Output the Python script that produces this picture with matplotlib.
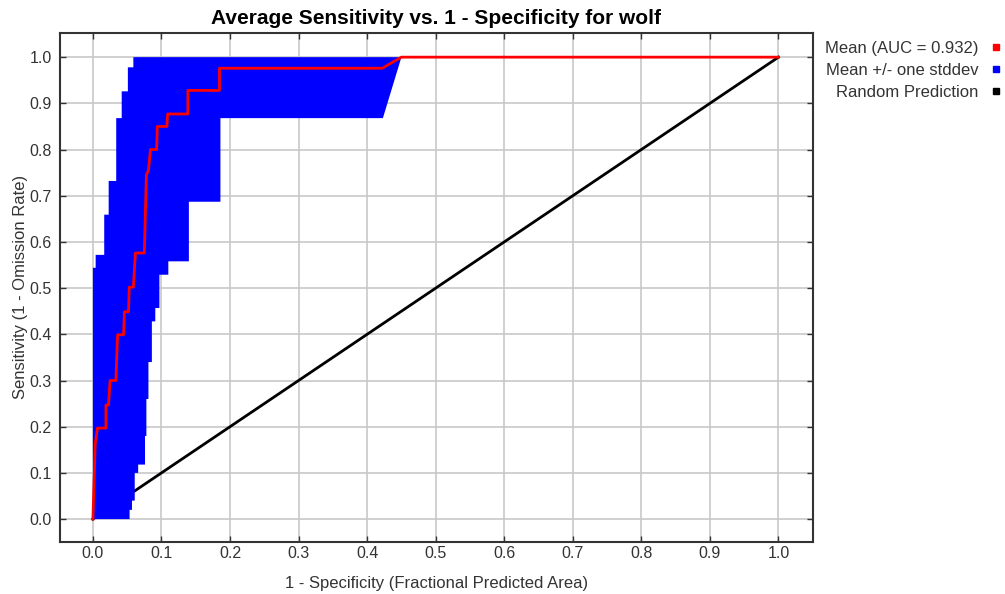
import numpy as np
import matplotlib.pyplot as plt

plt.rcParams['font.family'] = ['Liberation Sans', 'DejaVu Sans']

# Mean ROC curve (1 - specificity, sensitivity)
mean_fpr = [0.0, 0.0034, 0.0067, 0.019, 0.019, 0.0228, 0.025, 0.0335, 0.036, 0.0447,
            0.046, 0.052, 0.053, 0.059, 0.062, 0.075, 0.078, 0.081, 0.084, 0.093,
            0.094, 0.108, 0.109, 0.1385, 0.1385, 0.1846, 0.1846, 0.422, 0.45, 1.0]
mean_tpr = [0.0, 0.164, 0.197, 0.197, 0.247, 0.247, 0.30, 0.30, 0.399, 0.399,
            0.449, 0.449, 0.502, 0.502, 0.576, 0.576, 0.745, 0.755, 0.80, 0.80,
            0.85, 0.85, 0.877, 0.877, 0.928, 0.928, 0.976, 0.976, 1.0, 1.0]

# +/- one stddev band: left edge (mean - sd) as steps over sensitivity
sd_lo_tpr = [0.0, 0.544, 0.572, 0.659, 0.732, 0.868, 0.926, 0.978]
sd_lo_fpr = [0.0, 0.004, 0.0165, 0.023, 0.034, 0.042, 0.051, 0.059]

# right edge (mean + sd)
sd_hi_tpr = [0.0, 0.02, 0.04, 0.10, 0.118, 0.18, 0.26, 0.34, 0.428, 0.457,
             0.529, 0.558, 0.687, 0.868]
sd_hi_fpr = [0.0535, 0.057, 0.061, 0.066, 0.076, 0.078, 0.081, 0.086, 0.091, 0.097,
             0.110, 0.140, 0.186, 0.423]
sd_hi_close = 0.45  # where the upper edge reaches sensitivity 1

auc = 0.932


def step_edge(ys, xs, y_end):
    # turn a step function x(y) into polyline vertices
    px, py = [], []
    ys_next = list(ys[1:]) + [y_end]
    for x, y0, y1 in zip(xs, ys, ys_next):
        px += [x, x]
        py += [y0, y1]
    return px, py


lo_x, lo_y = step_edge(sd_lo_tpr, sd_lo_fpr, 1.0)
hi_x, hi_y = step_edge(sd_hi_tpr[:-1], sd_hi_fpr[:-1], sd_hi_tpr[-1])
hi_x += [sd_hi_fpr[-1], sd_hi_close]
hi_y += [sd_hi_tpr[-1], 1.0]

band_x = lo_x + hi_x[::-1]
band_y = lo_y + hi_y[::-1]

fig = plt.figure(figsize=(10.05, 5.94), dpi=100)
ax = fig.add_axes([0.0597, 0.088, 0.749, 0.857])

ax.plot([0, 1], [0, 1], color='black', lw=2, zorder=2)
ax.fill(band_x, band_y, color='blue', lw=0, zorder=3)
ax.plot(mean_fpr, mean_tpr, color='red', lw=2, zorder=4)

ax.set_xlim(-0.048, 1.05)
ax.set_ylim(-0.049, 1.053)
ticks = np.round(np.arange(0, 1.01, 0.1), 1)
ax.set_xticks(ticks)
ax.set_yticks(ticks)
ax.set_xticklabels([f'{t:.1f}' for t in ticks])
ax.set_yticklabels([f'{t:.1f}' for t in ticks])
ax.grid(True, color='#c8c8c8', lw=1.2)
ax.set_axisbelow(True)
ax.tick_params(direction='in', top=True, right=True, length=4, width=1,
               color='#333333', labelsize=11.5, labelcolor='#333333')
ax.tick_params(axis='x', pad=3)
ax.tick_params(axis='y', pad=6)
for s in ax.spines.values():
    s.set_color('#333333')
    s.set_linewidth(1.5)

ax.set_title('Average Sensitivity vs. 1 - Specificity for wolf',
             fontsize=15, fontweight='bold', pad=6)
ax.set_xlabel('1 - Specificity (Fractional Predicted Area)', fontsize=12,
              color='#333333', labelpad=11)
ax.set_ylabel('Sensitivity (1 - Omission Rate)', fontsize=12,
              color='#333333', labelpad=1)

handles = [
    plt.Line2D([], [], ls='none', marker='s', ms=5, color='red'),
    plt.Line2D([], [], ls='none', marker='s', ms=5, color='blue'),
    plt.Line2D([], [], ls='none', marker='s', ms=5, color='black'),
]
labels = [f'Mean (AUC = {auc:.3f})', 'Mean +/- one stddev', 'Random Prediction']
fig.legend(handles, labels, loc='upper right', bbox_to_anchor=(1.005, 0.947),
           markerfirst=False, frameon=False, fontsize=12, handlelength=0.6,
           handletextpad=0.75, labelspacing=0.42, borderaxespad=0.15,
           labelcolor='#333333')

fig.savefig('out.png', dpi=100)
